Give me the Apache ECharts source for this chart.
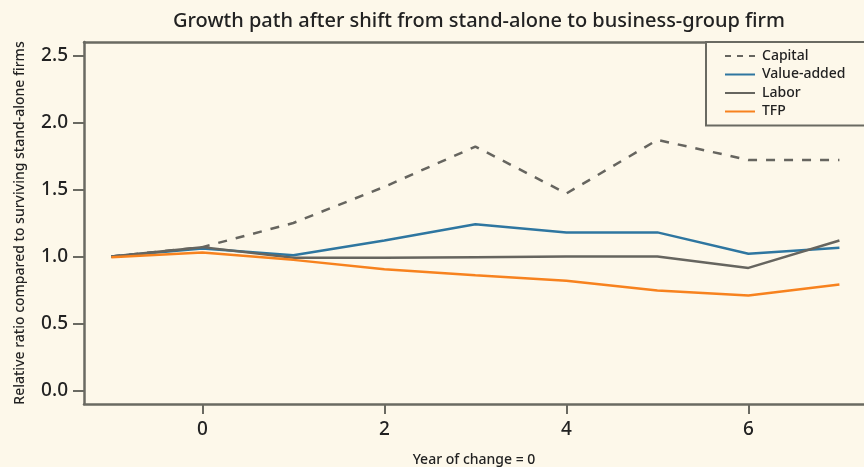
<!DOCTYPE html>
<html>
<head>
<meta charset="utf-8">
<script src="https://cdn.jsdelivr.net/npm/echarts@6/dist/echarts.min.js"></script>
<style>
  html, body { margin: 0; padding: 0; background: #fdf8ea; }
  #chart { width: 864px; height: 467px; }
</style>
</head>
<body>
<div id="chart"></div>
<script>
// years relative to the change year
var years = [-1, 0, 1, 2, 3, 4, 5, 6, 7]
var capital = [1.0, 1.07, 1.25, 1.52, 1.82, 1.47, 1.87, 1.72, 1.72]
var valueAdded = [1.0, 1.06, 1.01, 1.12, 1.24, 1.18, 1.18, 1.02, 1.065]
var labor = [1.0, 1.07, 0.99, 0.99, 0.995, 1.0, 1.0, 0.915, 1.12]
var tfp = [0.995, 1.03, 0.975, 0.905, 0.86, 0.82, 0.746, 0.709, 0.792]
var xTicks = [0, 2, 4, 6]
var yTicks = [0, 0.5, 1, 1.5, 2, 2.5]

var frameColor = '#6a6a62'
var textColor = '#222222'

function pairs (vals) {
  var out = []
  for (var i = 0; i < years.length; i++) {
    out.push([years[i], vals[i]])
  }
  return out
}

var myChart = echarts.init(document.getElementById('chart'))
var option = {
  backgroundColor: '#fdf8ea',
  animation: false,
  textStyle: { fontFamily: 'Noto Sans' },
  title: {
    text: 'Growth path after shift from stand-alone to business-group firm',
    left: 474,
    textAlign: 'center',
    top: 6,
    textStyle: { fontSize: 20, fontWeight: 500, color: textColor, fontFamily: 'Noto Sans' }
  },
  // axis titles
  graphic: [
    {
      type: 'text',
      x: 474,
      y: 460,
      style: {
        text: 'Year of change = 0',
        fill: textColor,
        font: '500 14px "Noto Sans"',
        align: 'center',
        verticalAlign: 'middle'
      }
    },
    {
      type: 'text',
      x: 20,
      y: 223,
      rotation: Math.PI / 2,
      style: {
        text: 'Relative ratio compared to surviving stand-alone firms',
        fill: textColor,
        font: '500 14px "Noto Sans"',
        align: 'center',
        verticalAlign: 'middle'
      }
    }
  ],
  legend: {
    orient: 'vertical',
    left: 706,
    top: 42,
    padding: [7, 60, 7, 18],
    itemGap: 4.5,
    itemWidth: 30,
    itemHeight: 14,
    borderColor: frameColor,
    borderWidth: 2,
    backgroundColor: '#fdf8ea',
    itemStyle: { opacity: 0 },
    textStyle: { fontSize: 14, fontWeight: 500, color: textColor, padding: [0, 0, 0, 2] },
    data: [
      { name: 'Capital', lineStyle: { type: [6, 6] } },
      'Value-added',
      'Labor',
      'TFP'
    ]
  },
  grid: {
    left: 84,
    right: 0,
    top: 42,
    bottom: 63,
    outerBoundsMode: 'none'
  },
  xAxis: [
    {
      type: 'value',
      min: -1.3,
      max: 7.27,
      // sit on the bottom edge: the referenced helper y axis never crosses zero
      axisLine: { show: true, onZero: true, onZeroAxisIndex: 1, lineStyle: { color: frameColor, width: 2.5 } },
      splitLine: { show: false },
      axisTick: {
        show: true,
        length: 10,
        lineStyle: { color: frameColor, width: 2 },
        customValues: xTicks
      },
      axisLabel: {
        fontSize: 19,
        fontWeight: 500,
        color: textColor,
        margin: 16,
        customValues: xTicks
      }
    },
    {
      // top edge of the frame
      type: 'value',
      position: 'top',
      min: -1.3,
      max: 7.27,
      axisLine: { show: true, onZero: false, lineStyle: { color: frameColor, width: 2.5 } },
      axisTick: { show: false },
      axisLabel: { show: false },
      splitLine: { show: false }
    },
    {
      // helper axis, not drawn
      type: 'value',
      show: false,
      min: 10,
      max: 20
    }
  ],
  yAxis: [
    {
      type: 'value',
      min: -0.1,
      max: 2.6,
      axisLine: { show: true, onZero: true, onZeroAxisIndex: 2, lineStyle: { color: frameColor, width: 2.5 } },
      splitLine: { show: false },
      axisTick: {
        show: true,
        length: 11,
        lineStyle: { color: frameColor, width: 2 },
        customValues: yTicks
      },
      axisLabel: {
        fontSize: 19,
        fontWeight: 500,
        color: textColor,
        margin: 16,
        formatter: function (v) { return v.toFixed(1) },
        customValues: yTicks
      }
    },
    {
      // helper axis, not drawn
      type: 'value',
      show: false,
      min: 10,
      max: 20
    }
  ],
  series: [
    {
      name: 'Capital',
      type: 'line',
      data: pairs(capital),
      symbol: 'none',
      color: '#66655f',
      lineStyle: { color: '#66655f', width: 2.5, type: [9, 9] }
    },
    {
      name: 'Value-added',
      type: 'line',
      data: pairs(valueAdded),
      symbol: 'none',
      color: '#2e76a0',
      lineStyle: { color: '#2e76a0', width: 2.5 }
    },
    {
      name: 'Labor',
      type: 'line',
      data: pairs(labor),
      symbol: 'none',
      color: '#66655f',
      lineStyle: { color: '#66655f', width: 2.5 }
    },
    {
      name: 'TFP',
      type: 'line',
      data: pairs(tfp),
      symbol: 'none',
      color: '#f7821e',
      lineStyle: { color: '#f7821e', width: 2.5 }
    }
  ]
}
myChart.setOption(option)
</script>
</body>
</html>
